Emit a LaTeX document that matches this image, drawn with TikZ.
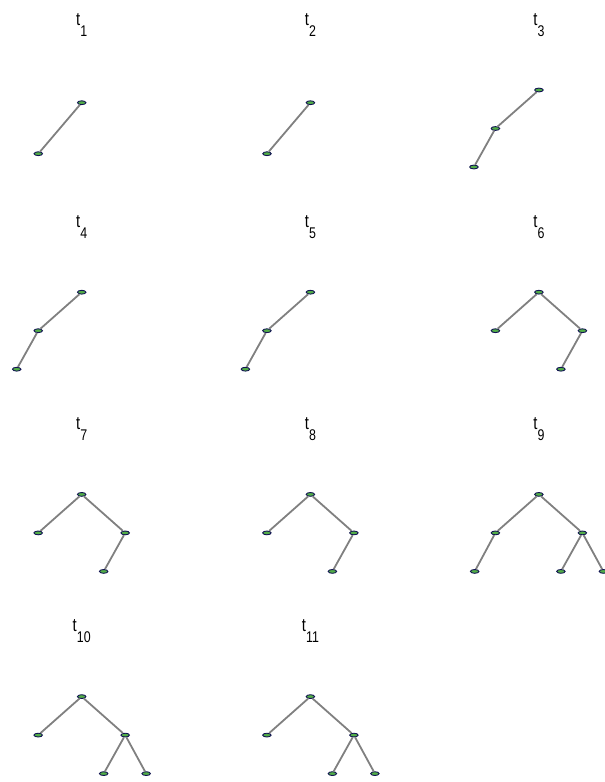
\documentclass[tikz,border=0pt]{standalone}
\usepackage{fontspec}
\setmainfont{Liberation Sans}
\usepackage{xcolor}
\usepackage{tikz}
\usetikzlibrary{shapes.geometric}
\definecolor{vtxgreen}{rgb}{0.32,0.68,0.28}
\definecolor{vtxnavy}{rgb}{0.07,0.08,0.32}
\definecolor{edgegray}{rgb}{0.50,0.50,0.50}
\newcommand{\tlab}[1]{{\fontsize{18.5}{18.5}\selectfont t\raisebox{-11pt}{\fontsize{15.5}{15.5}\selectfont #1}}}

\begin{document}
\begin{tikzpicture}[x=1pt, y=-1pt,
      vtx/.style={ellipse, draw=vtxnavy, fill=vtxgreen, line width=0.9pt,
                  minimum width=8.5pt, minimum height=3.8pt, inner sep=0pt},
      edge/.style={draw=edgegray, line width=1.8pt},
      lab/.style={anchor=base, inner sep=0pt, xscale=0.8, text=black}
  ]
    \useasboundingbox (0,0) rectangle (605,782);

    % row 1
    \node[lab] (lab1) at (81.7,25) {\tlab{1}};
    \node[vtx] (r1) at (81.7,102.7) {};
    \node[vtx] (a1) at (38.3,153.7) {};
    \draw[edge] (r1) -- (a1);

    \begin{scope}[shift={(228.7,0)}]
    \node[lab] (lab2) at (81.7,25) {\tlab{2}};
    \node[vtx] (r2) at (81.7,102.7) {};
    \node[vtx] (a2) at (38.3,153.7) {};
    \draw[edge] (r2) -- (a2);
    \end{scope}

    \begin{scope}[shift={(457.2,0)}]
    \node[lab] (lab3) at (81.7,25) {\tlab{3}};
    \node[vtx] (r3) at (81.7,90) {};
    \node[vtx] (a3) at (38.2,128.5) {};
    \node[vtx] (aa3) at (16.7,167) {};
    \draw[edge] (r3) -- (a3); \draw[edge] (a3) -- (aa3);
    \end{scope}

    % row 2
    \begin{scope}[shift={(0,202.2)}]
    \node[lab] (lab4) at (81.7,25) {\tlab{4}};
    \node[vtx] (r4) at (81.7,90) {};
    \node[vtx] (a4) at (38.2,128.5) {};
    \node[vtx] (aa4) at (16.7,167) {};
    \draw[edge] (r4) -- (a4); \draw[edge] (a4) -- (aa4);
    \end{scope}

    \begin{scope}[shift={(228.7,202.2)}]
    \node[lab] (lab5) at (81.7,25) {\tlab{5}};
    \node[vtx] (r5) at (81.7,90) {};
    \node[vtx] (a5) at (38.2,128.5) {};
    \node[vtx] (aa5) at (16.7,167) {};
    \draw[edge] (r5) -- (a5); \draw[edge] (a5) -- (aa5);
    \end{scope}

    \begin{scope}[shift={(457.2,202.2)}]
    \node[lab] (lab6) at (81.7,25) {\tlab{6}};
    \node[vtx] (r6) at (81.7,90) {};
    \node[vtx] (a6) at (38.2,128.5) {};
    \node[vtx] (b6) at (125.2,128.5) {};
    \node[vtx] (ba6) at (103.7,167) {};
    \draw[edge] (r6) -- (a6); \draw[edge] (r6) -- (b6); \draw[edge] (b6) -- (ba6);
    \end{scope}

    % row 3
    \begin{scope}[shift={(0,404.4)}]
    \node[lab] (lab7) at (81.7,25) {\tlab{7}};
    \node[vtx] (r7) at (81.7,90) {};
    \node[vtx] (a7) at (38.2,128.5) {};
    \node[vtx] (b7) at (125.2,128.5) {};
    \node[vtx] (ba7) at (103.7,167) {};
    \draw[edge] (r7) -- (a7); \draw[edge] (r7) -- (b7); \draw[edge] (b7) -- (ba7);
    \end{scope}

    \begin{scope}[shift={(228.7,404.4)}]
    \node[lab] (lab8) at (81.7,25) {\tlab{8}};
    \node[vtx] (r8) at (81.7,90) {};
    \node[vtx] (a8) at (38.2,128.5) {};
    \node[vtx] (b8) at (125.2,128.5) {};
    \node[vtx] (ba8) at (103.7,167) {};
    \draw[edge] (r8) -- (a8); \draw[edge] (r8) -- (b8); \draw[edge] (b8) -- (ba8);
    \end{scope}

    \begin{scope}[shift={(457.2,404.4)}]
    \node[lab] (lab9) at (81.7,25) {\tlab{9}};
    \node[vtx] (r9) at (81.7,90) {};
    \node[vtx] (a9) at (38.2,128.5) {};
    \node[vtx] (b9) at (125.2,128.5) {};
    \node[vtx] (aa9) at (17.5,167) {};
    \node[vtx] (ba9) at (103.7,167) {};
    \node[vtx] (bb9) at (146.2,167) {};
    \draw[edge] (r9) -- (a9); \draw[edge] (r9) -- (b9);
    \draw[edge] (a9) -- (aa9); \draw[edge] (b9) -- (ba9); \draw[edge] (b9) -- (bb9);
    \end{scope}

    % row 4
    \begin{scope}[shift={(0,606.6)}]
    \node[lab] (lab10) at (81.7,25) {\tlab{10}};
    \node[vtx] (r10) at (81.7,90) {};
    \node[vtx] (a10) at (38.2,128.5) {};
    \node[vtx] (b10) at (125.2,128.5) {};
    \node[vtx] (ba10) at (103.7,167) {};
    \node[vtx] (bb10) at (146.2,167) {};
    \draw[edge] (r10) -- (a10); \draw[edge] (r10) -- (b10);
    \draw[edge] (b10) -- (ba10); \draw[edge] (b10) -- (bb10);
    \end{scope}

    \begin{scope}[shift={(228.7,606.6)}]
    \node[lab] (lab11) at (81.7,25) {\tlab{11}};
    \node[vtx] (r11) at (81.7,90) {};
    \node[vtx] (a11) at (38.2,128.5) {};
    \node[vtx] (b11) at (125.2,128.5) {};
    \node[vtx] (ba11) at (103.7,167) {};
    \node[vtx] (bb11) at (146.2,167) {};
    \draw[edge] (r11) -- (a11); \draw[edge] (r11) -- (b11);
    \draw[edge] (b11) -- (ba11); \draw[edge] (b11) -- (bb11);
    \end{scope}
  \end{tikzpicture}
\end{document}
